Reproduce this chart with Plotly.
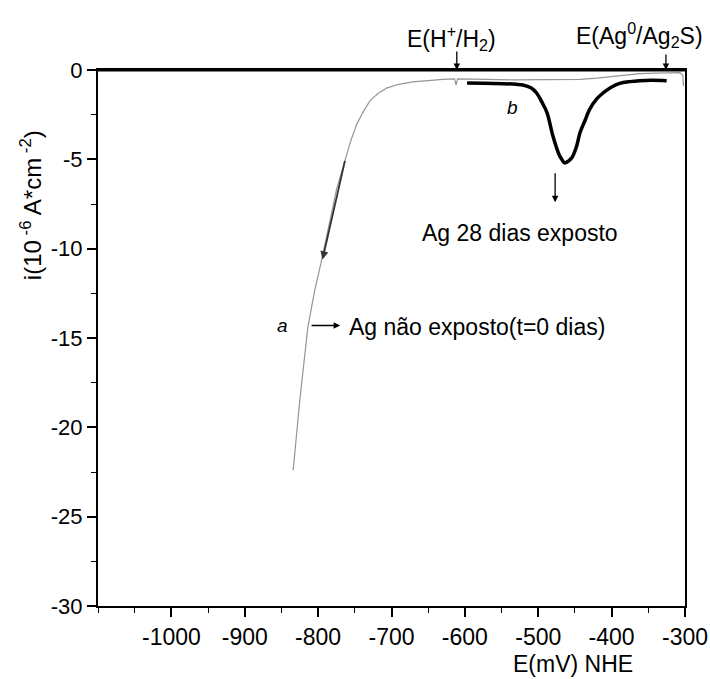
import plotly.graph_objects as go

# Curve a: Ag não exposto (t=0 dias)
Ea = [-834, -825, -814, -805, -795, -785, -775, -763, -755, -747, -738, -729, -718, -706, -690,
      -671, -650, -630, -614, -612, -610, -600, -570, -535, -500, -470, -443, -420, -398, -380,
      -362, -340, -320, -307, -303, -302]
Ia = [-22.4, -18.5, -14.4, -12.4, -10.6, -8.6, -6.7, -5.0, -3.9, -3.0, -2.3, -1.7, -1.3, -1.0, -0.8,
      -0.67, -0.58, -0.53, -0.5, -0.85, -0.5, -0.5, -0.52, -0.55, -0.55, -0.55, -0.52, -0.45, -0.36, -0.28,
      -0.2, -0.17, -0.17, -0.15, -0.3, -0.9]

# Curve b: Ag 28 dias exposto
Eb = [-597, -560, -530, -521, -510, -502, -495, -488, -480, -472, -468, -464, -459, -454, -448,
      -443, -436, -430, -420, -412, -400, -389, -375, -362, -345, -325]
Ib = [-0.73, -0.75, -0.8, -0.84, -1.0, -1.3, -1.8, -2.4, -3.7, -4.7, -5.0, -5.2, -5.1, -4.9, -4.3,
      -3.5, -2.8, -2.2, -1.6, -1.3, -0.95, -0.75, -0.65, -0.6, -0.58, -0.6]

x_ticks = [-1000, -900, -800, -700, -600, -500, -400, -300]
y_ticks = [0, -5, -10, -15, -20, -25, -30]

FONT = "Liberation Sans, Arial, sans-serif"

fig = go.Figure()
fig.add_trace(go.Scatter(x=Ea, y=Ia, mode="lines", line=dict(color="#959595", width=1.2),
                         showlegend=False))
fig.add_trace(go.Scatter(x=Eb, y=Ib, mode="lines", line=dict(color="black", width=3.5, shape="spline"),
                         showlegend=False))

ann = []
# direction arrow on curve a
ann.append(dict(x=-794, y=-10.6, ax=-763, ay=-5.0, xref="x", yref="y", axref="x", ayref="y",
                text="", showarrow=True, arrowhead=2, arrowsize=0.9, arrowwidth=1.8, arrowcolor="#333"))
# label a
ann.append(dict(x=-848, y=-14.3, text="<i>a</i>", showarrow=False, font=dict(size=19, family=FONT)))
ann.append(dict(x=-770, y=-14.3, ax=-811, ay=-14.3, xref="x", yref="y", axref="x", ayref="y",
                text="", showarrow=True, arrowhead=2, arrowsize=1, arrowwidth=1.3, arrowcolor="black"))
ann.append(dict(x=-761, y=-14.4, text="Ag não exposto(t=0 dias)", showarrow=False, xanchor="left",
                font=dict(size=23, family=FONT)))
# label b
ann.append(dict(x=-535, y=-2.1, text="<i>b</i>", showarrow=False, font=dict(size=19, family=FONT)))
ann.append(dict(x=-477, y=-7.4, ax=-477, ay=-5.7, xref="x", yref="y", axref="x", ayref="y",
                text="", showarrow=True, arrowhead=2, arrowsize=1, arrowwidth=1.3, arrowcolor="black"))
ann.append(dict(x=-525, y=-9.1, text="Ag 28 dias exposto", showarrow=False,
                font=dict(size=23, family=FONT)))
# top reference potentials (above the frame)
ann.append(dict(x=-611, y=1.0, xref="x", yref="paper", ax=0, ay=-20,
                text="", showarrow=True, arrowhead=2, arrowsize=1, arrowwidth=1.3, arrowcolor="black"))
ann.append(dict(x=-618, y=1.06, xref="x", yref="paper", yanchor="middle",
                text="E(H<sup>+</sup>/H<sub>2</sub>)", showarrow=False,
                font=dict(size=23, family=FONT)))
ann.append(dict(x=-326, y=1.0, xref="x", yref="paper", ax=0, ay=-17,
                text="", showarrow=True, arrowhead=2, arrowsize=1, arrowwidth=1.3, arrowcolor="black"))
ann.append(dict(x=-362, y=1.065, xref="x", yref="paper", yanchor="middle",
                text="E(Ag<sup>0</sup>/Ag<sub>2</sub>S)", showarrow=False,
                font=dict(size=23, family=FONT)))
# axis titles
ann.append(dict(x=0.809, y=-0.108, xref="paper", yref="paper", xanchor="center", yanchor="middle",
                text="E(mV) NHE", showarrow=False, font=dict(size=23, family=FONT)))
ann.append(dict(x=-0.114, y=0.748, xref="paper", yref="paper", xanchor="center", yanchor="middle",
                text="i(10<sup> -6</sup> A*cm<sup> -2</sup>)",
                showarrow=False, textangle=-90, font=dict(size=24, family=FONT)))

fig.update_layout(
    width=710, height=679,
    margin=dict(l=98, r=25, t=70, b=73, autoexpand=False),
    paper_bgcolor="white", plot_bgcolor="white",
    font=dict(family=FONT, size=21, color="black"),
    annotations=ann,
    shapes=[dict(type="line", xref="paper", yref="paper", x0=0, x1=1, y0=1, y1=1,
                 line=dict(color="black", width=3))],
)
fig.update_xaxes(range=[-1100, -300], tickvals=x_ticks, ticktext=[str(v) for v in x_ticks],
                 ticks="outside", ticklen=9, tickwidth=1.5, tickcolor="black",
                 minor=dict(dtick=50, tick0=-1000, ticks="outside", ticklen=5, tickwidth=1.3, tickcolor="black"),
                 showline=True, linecolor="black", linewidth=2, mirror=True,
                 ticklabeloverflow="allow", ticklabelstandoff=0, automargin=False,
                 showgrid=False, zeroline=False, tickfont=dict(size=23, family=FONT))
fig.update_yaxes(range=[-30, 0], tickvals=y_ticks, ticktext=[str(v) for v in y_ticks],
                 ticks="outside", ticklen=9, tickwidth=1.5, tickcolor="black",
                 minor=dict(dtick=2.5, tick0=0, ticks="outside", ticklen=5, tickwidth=1.3, tickcolor="black"),
                 showline=True, linecolor="black", linewidth=2, mirror=True, automargin=False,
                 showgrid=False, zeroline=False, tickfont=dict(size=22, family=FONT))

fig.write_html("out.html")
